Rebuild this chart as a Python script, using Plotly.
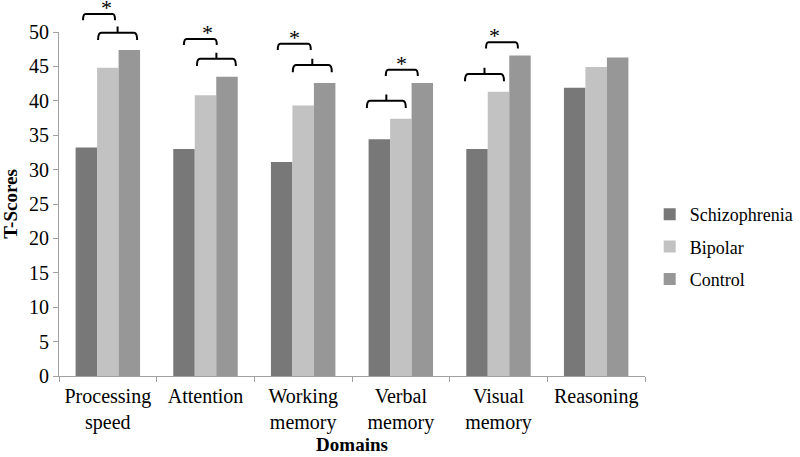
import plotly.graph_objects as go

categories = ["Processing<br>speed", "Attention", "Working<br>memory", "Verbal<br>memory", "Visual<br>memory", "Reasoning"]
schizophrenia = [33.2, 33.0, 31.1, 34.4, 33.0, 41.9]
bipolar = [44.8, 40.8, 39.3, 37.4, 41.3, 44.9]
control = [47.4, 43.5, 42.6, 42.6, 46.6, 46.3]

series_names = ["Schizophrenia", "Bipolar", "Control"]
series_colors = ["#787878", "#c2c2c2", "#979797"]

# significance brackets: (category index, left offset, right offset, top value, has star)
brackets = [
    (0, -0.254, 0.074, 52.6, True),
    (0, -0.100, 0.300, 49.9, False),
    (1, -0.221, 0.116, 49.0, True),
    (1, -0.088, 0.311, 46.1, False),
    (2, -0.260, 0.078, 48.3, True),
    (2, -0.106, 0.293, 45.2, False),
    (3, -0.348, 0.051, 40.0, False),
    (3, -0.154, 0.174, 44.5, True),
    (4, -0.343, 0.056, 43.9, False),
    (4, -0.128, 0.199, 48.5, True),
]

YMAX = 50
NCAT = len(categories)
FONT = "Liberation Serif, Times New Roman, DejaVu Serif, serif"

fig = go.Figure()
for name, vals, col in zip(series_names, [schizophrenia, bipolar, control], series_colors):
    fig.add_trace(go.Bar(x=categories, y=vals, name=name, marker_color=col,
                         marker_line_width=0, legendgroup=name))

def px(cat, off):
    return (cat + off + 0.5) / NCAT

def py(v):
    return v / YMAX

shapes = []
annotations = []
for cat, l, r, top, star in brackets:
    x0, x1 = px(cat, l), px(cat, r)
    yt = py(top)
    drop = py(0.9 if star else 1.05)
    rad = (x1 - x0) * 0.08
    path = (f"M {x0},{yt - drop} Q {x0},{yt} {x0 + rad},{yt} "
            f"L {x1 - rad},{yt} Q {x1},{yt} {x1},{yt - drop}")
    if not star:
        xc = (x0 + x1) / 2
        path += f" M {xc},{yt} L {xc},{yt + py(0.9)}"
    shapes.append(dict(type="path", xref="paper", yref="paper", path=path,
                       line=dict(color="black", width=2)))
    if star:
        annotations.append(dict(xref="paper", yref="paper", x=(x0 + x1) / 2, y=yt + py(1.0),
                                text="*", showarrow=False, yanchor="middle", height=12,
                                font=dict(family=FONT, size=22, color="black")))

fig.update_layout(
    width=800, height=457,
    margin=dict(l=59, r=155, t=32, b=81, autoexpand=False),
    paper_bgcolor="white", plot_bgcolor="white",
    barmode="group", bargap=0.34, bargroupgap=0,
    font=dict(family=FONT, size=19, color="black"),
    shapes=shapes, annotations=annotations,
    legend=dict(x=1.008, y=0.375, xanchor="left", yanchor="middle",
                font=dict(family=FONT, size=18),
                traceorder="grouped", tracegroupgap=6, itemwidth=30),
    xaxis=dict(showline=True, linecolor="#a0a0a0", linewidth=1,
               ticks="outside", tickson="boundaries", ticklen=5, tickcolor="#a0a0a0",
               range=[-0.5, NCAT - 0.5], showgrid=False, automargin=False,
               tickangle=0, ticklabelstandoff=2,
               tickfont=dict(family=FONT, size=20),
               title=dict(text="<b>Domains</b>", standoff=0,
                          font=dict(family=FONT, size=19))),
    yaxis=dict(range=[0, YMAX], dtick=5, showline=True, linecolor="#a0a0a0", linewidth=1,
               ticks="outside", ticklen=5, tickcolor="#a0a0a0", showgrid=False, zeroline=False,
               automargin=False,
               tickfont=dict(family=FONT, size=20),
               title=dict(text="<b>T-Scores</b>", standoff=6,
                          font=dict(family=FONT, size=19))),
)

fig.write_html("out.html", config={"displayModeBar": False},
               post_script="document.body.style.margin='0';")
